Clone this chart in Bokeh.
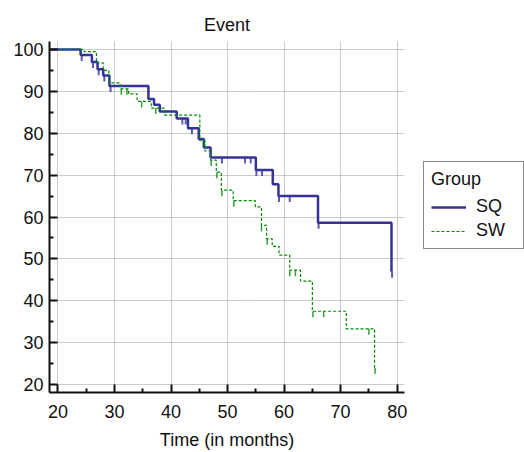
import numpy as np
from bokeh.plotting import figure
from bokeh.models import Range1d, FixedTicker, Legend, LegendItem
from bokeh.embed import file_html
from bokeh.resources import INLINE

# ---- data ----
sq_times = [0, 24.0, 26.0, 27.0, 28.0, 29.1, 36.0, 37.0, 38.0, 41.0, 43.0, 44.9, 45.8, 47.0, 55.0, 58.0, 59.0, 66.0, 79.0]
sq_surv = [100, 98.7, 97.0, 95.3, 93.8, 91.3, 88.2, 86.8, 85.2, 83.5, 81.2, 78.6, 76.6, 74.2, 71.2, 67.8, 65.0, 58.6, 46.9]
sq_censored = [24.2, 26.2, 27.2, 28.2, 29.3, 42.0, 42.6, 43.7, 49.0, 53.1, 54.1, 55.1, 56.1, 59.1, 61.0, 66.1, 79.1]

sw_times = [0, 24.6, 26.8, 28.0, 29.0, 31.0, 32.5, 34.0, 36.5, 38.8, 45.1, 46.0, 47.0, 48.0, 48.9, 51.0, 54.9, 56.0, 56.9, 57.9, 59.1, 61.0, 62.9, 65.0, 71.0, 76.0]
sw_surv = [100, 99.5, 96.8, 95.0, 92.0, 90.6, 89.4, 87.6, 86.0, 84.3, 78.2, 75.8, 73.6, 70.7, 66.4, 63.9, 62.4, 58.0, 54.8, 53.0, 50.9, 47.3, 44.7, 37.5, 33.3, 24.0]
sw_censored = [31.2, 32.2, 34.8, 37.3, 45.9, 47.1, 48.1, 49.0, 51.1, 56.0, 57.0, 61.0, 62.0, 65.1, 67.0, 75.0, 76.1]

x_ticks = [20, 30, 40, 50, 60, 70, 80]
x_minor = [25, 35, 45, 55, 65, 75]
y_ticks = [20, 30, 40, 50, 60, 70, 80, 90, 100]
y_minor = [25, 35, 45, 55, 65, 75, 85, 95]

FONT = "Liberation Sans"
SQ_COLOR = "#333399"
SW_COLOR = "#008a00"


def level_at(times, levels, t):
    times = np.asarray(times)
    levels = np.asarray(levels)
    idx = np.searchsorted(times, t, side="right") - 1
    return levels[idx]


p = figure(frame_width=355, frame_height=351,
           min_border_left=49, min_border_top=41, min_border_bottom=60, min_border_right=120,
           x_range=Range1d(18.5, 81.3), y_range=Range1d(18.1, 101.9),
           output_backend="svg", toolbar_location=None)

p.title.text = "Event"
p.title.align = "center"
p.title.text_font = FONT
p.title.text_font_size = "18px"
p.title.text_font_style = "normal"
p.title.text_color = "#111111"
p.title.standoff = 13

p.outline_line_color = None
p.background_fill_color = "white"
p.border_fill_color = "white"

for ax, ticks, minor in ((p.xaxis[0], x_ticks, x_minor), (p.yaxis[0], y_ticks, y_minor)):
    ax.ticker = FixedTicker(ticks=ticks, minor_ticks=minor)
    ax.axis_line_width = 2
    ax.axis_line_color = "#111111"
    ax.major_tick_in = 8
    ax.major_tick_out = 0
    ax.major_tick_line_width = 2
    ax.major_tick_line_color = "#111111"
    ax.minor_tick_in = 4
    ax.minor_tick_out = 0
    ax.minor_tick_line_width = 2
    ax.minor_tick_line_color = "#111111"
    ax.major_label_text_font = FONT
    ax.major_label_text_font_size = "18px"
    ax.major_label_text_color = "#111111"

p.xaxis.major_label_standoff = 12
p.yaxis.major_label_standoff = 6
p.xaxis.axis_label = "Time (in months)"
p.xaxis.axis_label_text_font = FONT
p.xaxis.axis_label_text_font_size = "18px"
p.xaxis.axis_label_text_font_style = "normal"
p.xaxis.axis_label_text_color = "#111111"
p.xaxis.axis_label_standoff = 9

for g in (p.xgrid[0], p.ygrid[0]):
    g.grid_line_color = "#999999"
    g.grid_line_dash = "1 1"
    g.grid_line_width = 1

# curves
sq_line = p.step(sq_times, sq_surv, mode="after", line_color=SQ_COLOR, line_width=2.5)
sw_line = p.step(sw_times, sw_surv, mode="after", line_color=SW_COLOR, line_width=1.2,
                 line_dash="3 2")

tick_len = 6 * (101.9 - 18.1) / 351.0
sq_cy = level_at(sq_times, sq_surv, sq_censored)
sw_cy = level_at(sw_times, sw_surv, sw_censored)
p.segment(x0=sq_censored, y0=sq_cy, x1=sq_censored, y1=sq_cy - tick_len,
          line_color=SQ_COLOR, line_width=2, line_alpha=0.8)
p.segment(x0=sw_censored, y0=sw_cy, x1=sw_censored, y1=sw_cy - tick_len,
          line_color=SW_COLOR, line_width=1.5, line_alpha=0.8)

legend = Legend(items=[LegendItem(label="SQ", renderers=[sq_line]),
                       LegendItem(label="SW", renderers=[sw_line])],
                title="Group", location=(19, 143))
legend.margin = 0
legend.padding = 7
legend.spacing = 3
legend.glyph_width = 35
legend.glyph_height = 20
legend.label_height = 20
legend.label_width = 40
legend.label_standoff = 10
legend.label_text_font = FONT
legend.label_text_font_size = "18px"
legend.label_text_color = "#111111"
legend.title_text_font = FONT
legend.title_text_font_size = "18px"
legend.title_text_font_style = "normal"
legend.title_text_color = "#111111"
legend.title_standoff = 6
legend.border_line_color = "#111111"
legend.border_line_width = 1
legend.background_fill_color = "white"
legend.background_fill_alpha = 1.0
p.add_layout(legend, "right")

open("out.html", "w").write(file_html(p, INLINE))
